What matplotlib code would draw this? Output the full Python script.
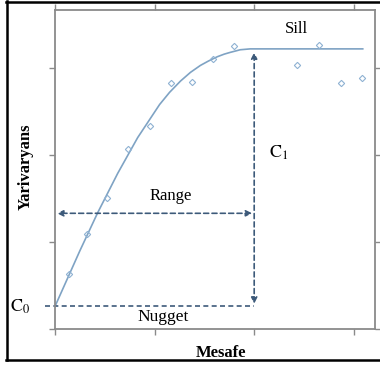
import matplotlib
matplotlib.use('Agg')
import matplotlib.pyplot as plt
from matplotlib.lines import Line2D

plt.rcParams['font.family'] = ['Liberation Serif', 'DejaVu Serif']
plt.rcParams['mathtext.fontset'] = 'stix'

# experimental semivariance points
lag = [0.14, 0.32, 0.52, 0.73, 0.95, 1.16, 1.38, 1.59, 1.80, 2.43, 2.65, 2.87, 3.08]
gamma = [0.63, 1.09, 1.51, 2.07, 2.33, 2.83, 2.84, 3.10, 3.25, 3.03, 3.26, 2.83, 2.88]

# fitted model line
model_h = [0.0, 0.25, 0.43, 0.63, 0.83, 1.05, 1.15, 1.26, 1.36, 1.46, 1.54,
           1.63, 1.70, 1.76, 1.86, 1.96, 3.09]
model_g = [0.26, 0.90, 1.34, 1.79, 2.20, 2.58, 2.72, 2.85, 2.95, 3.03, 3.08,
           3.13, 3.16, 3.18, 3.21, 3.22, 3.22]

nugget = 0.26
sill = 3.22
rng = 2.0
range_y = 1.33

dash_col = '#3d5a7a'
line_col = '#7fa3c4'
pt_col = '#8fb2d3'
spine_col = '#8a8a8a'

fig = plt.figure(figsize=(3.8, 3.67), dpi=100)
ax = fig.add_axes([55/380, 38/367, 320/380, 319/367])

ax.plot(model_h, model_g, color=line_col, lw=1.2)
ax.plot(lag, gamma, linestyle='none', marker='D', markersize=3.2,
        markerfacecolor='none', markeredgecolor=pt_col, markeredgewidth=0.8)

# nugget level
ax.plot([-0.1, rng], [nugget, nugget], color=dash_col, lw=1.2,
        linestyle=(0, (3, 2)), clip_on=False)

# range and C1 arrows
ax.annotate('', xy=(0.02, range_y), xytext=(rng - 0.02, range_y),
            arrowprops=dict(arrowstyle='<|-|>', color=dash_col, lw=1.2,
                            linestyle=(0, (3, 2)), mutation_scale=9,
                            shrinkA=0, shrinkB=0))
ax.annotate('', xy=(rng, sill - 0.04), xytext=(rng, nugget + 0.03),
            arrowprops=dict(arrowstyle='<|-|>', color=dash_col, lw=1.2,
                            linestyle=(0, (3, 2)), mutation_scale=9,
                            shrinkA=0, shrinkB=0))

ax.text(2.42, 3.45, 'Sill', fontsize=12, ha='center', va='center')
ax.text(2.25, 2.03, r'$\mathrm{C}_1$', fontsize=13, ha='center', va='center')
ax.text(1.16, 1.53, 'Range', fontsize=12, ha='center', va='center')
ax.text(1.09, 0.14, 'Nugget', fontsize=12.5, ha='center', va='center')
ax.text(-0.35, 0.26, r'$\mathrm{C}_0$', fontsize=13, ha='center', va='center')

ax.set_xlim(0, 3.213)
ax.set_ylim(0, 3.667)
ax.set_xticks([0, 1, 2, 3])
ax.set_yticks([0, 1, 2, 3])
ax.tick_params(direction='out', length=4, width=1, color=spine_col,
               top=True, right=True, labelbottom=False, labelleft=False)
for s in ax.spines.values():
    s.set_color(spine_col)
    s.set_linewidth(1.3)

ax.set_xlabel('Mesafe', fontsize=12, fontweight='bold')
ax.xaxis.set_label_coords(0.519, -0.05)
ax.set_ylabel('Yarivaryans', fontsize=12, fontweight='bold')
ax.yaxis.set_label_coords(-0.066, 0.508)

# frame around the figure
for xs, ys in [([6/380, 1], [1 - 1.5/367] * 2),
               ([7/380] * 2, [1 - 1/367, 1 - 360/367]),
               ([6/380, 1], [1 - 360/367] * 2)]:
    fig.add_artist(Line2D(xs, ys, color='black', lw=1.8))

fig.savefig('out.png', dpi=100)
